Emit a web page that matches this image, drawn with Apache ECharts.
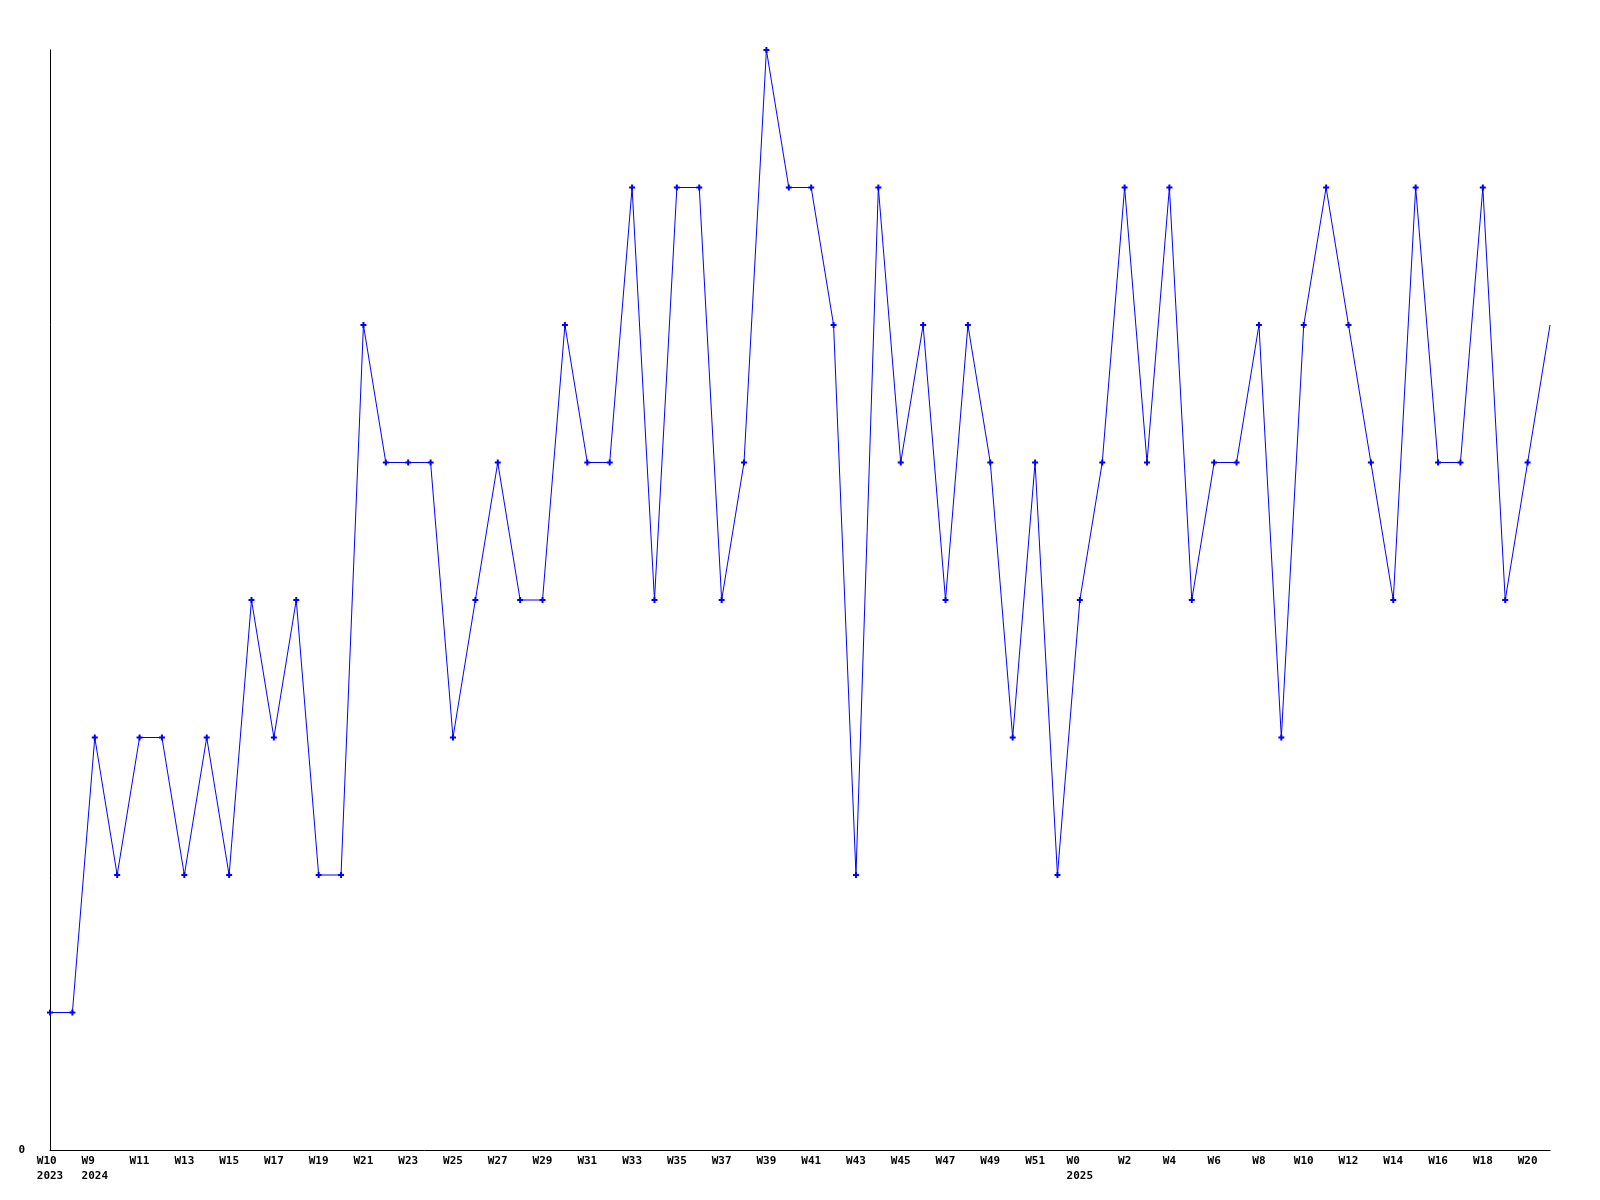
<!DOCTYPE html>
<html>
<head>
<meta charset="utf-8">
<script src="https://cdn.jsdelivr.net/npm/echarts@6/dist/echarts.min.js"></script>
<style>
html,body{margin:0;padding:0;background:#fff;}
#chart{width:1600px;height:1200px;}
</style>
</head>
<body>
<div id="chart"></div>
<script>
const categories = [
  "W10 \n2023","W8","W9  \n2024","W10","W11","W12","W13","W14","W15","W16",
  "W17","W18","W19","W20","W21","W22","W23","W24","W25","W26",
  "W27","W28","W29","W30","W31","W32","W33","W34","W35","W36",
  "W37","W38","W39","W40","W41","W42","W43","W44","W45","W46",
  "W47","W48","W49","W50","W51","W52","W0  \n2025","W1","W2","W3",
  "W4","W5","W6","W7","W8","W9","W10","W11","W12","W13",
  "W14","W15","W16","W17","W18","W19","W20","W21"
];
const values = [
  1,1,3,2,3,3,2,3,2,4,
  3,4,2,2,6,5,5,5,3,4,
  5,4,4,6,5,5,7,4,7,7,
  4,5,8,7,7,6,2,7,5,6,
  4,6,5,3,5,2,4,5,7,5,
  7,4,5,5,6,3,6,7,6,5,
  4,7,5,5,7,4,5,6
];
const yTickLabels = ["0"];

const chart = echarts.init(document.getElementById('chart'), null, {renderer:'canvas'});
const font = '"DejaVu Sans Mono", monospace';
const seriesData = values.map((v, i) => i === values.length - 1 ? {value: v, symbol: 'none'} : v);

chart.setOption({
  animation: false,
  backgroundColor: '#ffffff',
  grid: {left: 50, right: 50, top: 50, bottom: 50, containLabel: false},
  xAxis: {
    type: 'category',
    data: categories,
    boundaryGap: false,
    axisLine: {show: true, lineStyle: {color: '#000', width: 1}},
    axisTick: {show: false},
    splitLine: {show: false},
    axisLabel: {
      interval: 1,
      margin: 4,
      color: '#000',
      fontFamily: font,
      fontWeight: 'bold',
      fontSize: 11,
      lineHeight: 15
    }
  },
  yAxis: {
    type: 'value',
    min: 0,
    max: 8,
    interval: 8,
    axisLine: {show: true, lineStyle: {color: '#000', width: 1}},
    axisTick: {show: false},
    splitLine: {show: false},
    axisLabel: {
      margin: 25,
      color: '#000',
      fontFamily: font,
      fontWeight: 'bold',
      fontSize: 11,
      formatter: function (v) { return v === 0 ? yTickLabels[0] : ''; }
    }
  },
  series: [{
    type: 'line',
    data: seriesData,
    showAllSymbol: true,
    symbol: 'path://M2,0H4V2H6V4H4V6H2V4H0V2H2Z',
    symbolSize: 6,
    itemStyle: {color: '#0000ff'},
    lineStyle: {color: '#0000ff', width: 1},
    emphasis: {disabled: true}
  }]
});
</script>
</body>
</html>
